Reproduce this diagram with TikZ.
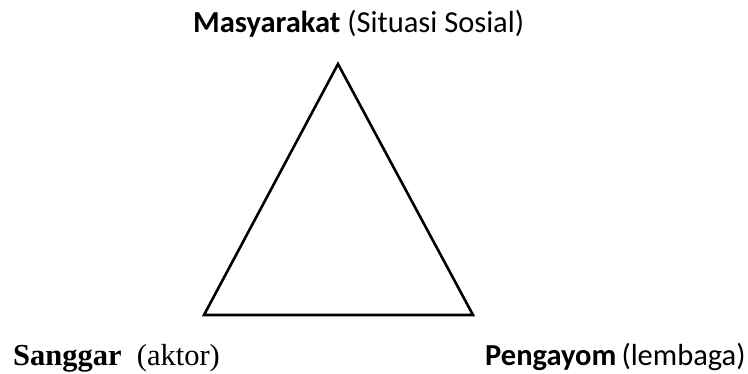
\documentclass[tikz,border=0pt]{standalone}
\usepackage{fontspec}
\setmainfont{Liberation Serif}
\newfontfamily\calib{Carlito}
\begin{document}
\begin{tikzpicture}[x=1pt,y=-1pt,
  lbl/.style={inner sep=0pt,anchor=base west,font=\calib\fontsize{30.5}{31}\selectfont},
  slbl/.style={inner sep=0pt,anchor=base west,font=\fontsize{30.5}{31}\selectfont},
  edge/.style={line width=2.6pt,line join=miter}]
\useasboundingbox (0,0) rectangle (748,374);
\coordinate (top) at (338,64);
\coordinate (bl) at (204,315);
\coordinate (br) at (473,315);
\draw[edge] (top) -- (bl) -- (br) -- cycle;
\node[lbl] (mas) at (193,33) {\textbf{Masyarakat} (Situasi Sosial)};
\node[slbl] (san) at (13,366) {\textbf{Sanggar}\ \ (aktor)};
\node[lbl] (pen) at (485,366) {\textbf{Pengayom}\,(lembaga)};
\end{tikzpicture}
\end{document}
